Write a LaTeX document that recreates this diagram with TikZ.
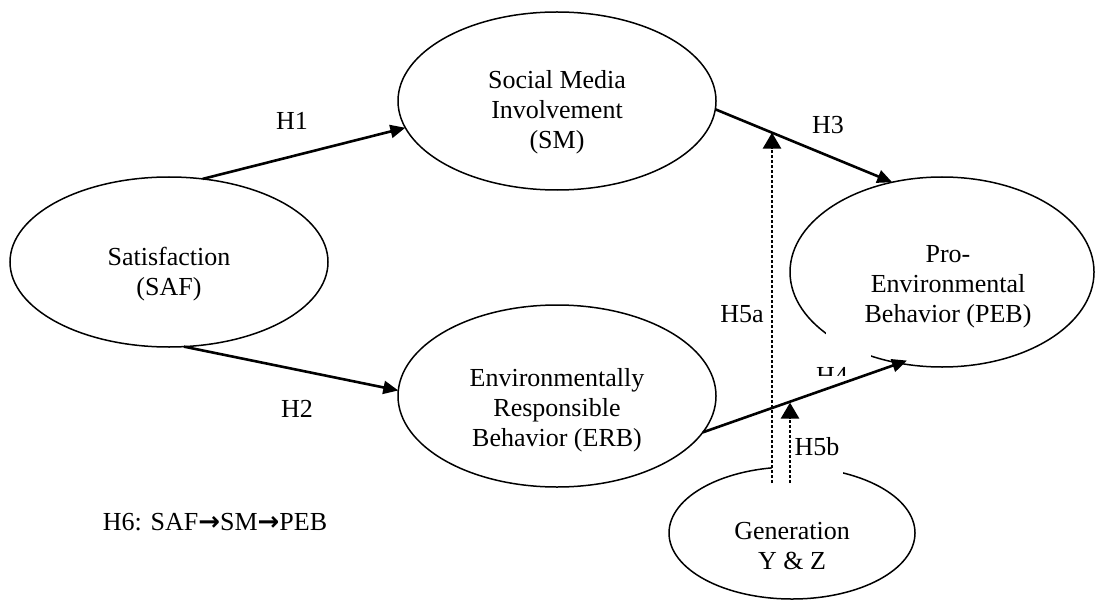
\documentclass[tikz,border=0pt]{standalone}
\usepackage{fontspec}
\setmainfont{Liberation Serif}
\newfontfamily\arrowfont{DejaVu Sans}
\usetikzlibrary{shapes.geometric,arrows.meta,calc}

\tikzset{
  construct/.style={ellipse, draw, line width=0.75pt, inner sep=0pt, outer sep=0pt},
  hyp/.style={line width=1.3pt, -{Triangle[length=7.5pt 0,width=6.5pt 0]}},
  moder/.style={line width=1.4pt, dash pattern=on 1.3pt off 1.2pt, -{Triangle[length=8pt 0,width=9pt 0]}},
}

\begin{document}
\begin{tikzpicture}[x=0.5pt, y=-0.5pt, font=\fontsize{13pt}{15pt}\selectfont]
            \useasboundingbox (0,0) rectangle (1095,604);
            % constructs
            \node[construct, minimum width=159pt, minimum height=85pt] (saf) at (169,262) {};
            \node[construct, minimum width=159pt, minimum height=89pt] (sm) at (557,101) {};
            \node[construct, minimum width=159pt, minimum height=91pt] (erb) at (557,396) {};
            \node[construct, minimum width=152pt, minimum height=95pt] (peb) at (942,272) {};
            \node[construct, minimum width=123pt, minimum height=66pt] (gen) at (792,533) {};
            \fill[white] (826,331) rectangle (871,362);
            \fill[white] (772,455) rectangle (843,482);
            \node[align=center] (saftext) at ([yshift=-6pt]saf.center) {Satisfaction\\(SAF)};
            \node[align=center] (smtext) at ([yshift=-5.5pt]sm.center) {Social Media\\Involvement\\(SM)};
            \node[align=center] (erbtext) at ([yshift=-7pt]erb.center) {Environmentally\\Responsible\\Behavior (ERB)};
            \node[align=center] (pebtext) at ([xshift=3pt,yshift=-7.5pt]peb.center) {Pro-\\Environmental\\Behavior (PEB)};
            \node[align=center] (gentext) at ([yshift=-6.5pt]gen.center) {Generation\\Y \& Z};
            % hypotheses
            \node (h1) at (292,121) {H1};
            \node (h2) at (297,409) {H2};
            \node (h3) at (828,125) {H3};
            \node (h5a) at (742,314) {H5a};
            \node (h5b) at (817,447) {H5b};
            \node (h6) at (215,522) {H6: SAF{\arrowfont\bfseries →}SM{\arrowfont\bfseries →}PEB};
            \begin{scope}
                \clip (800,355) rectangle (870,375);
                \node (h4) at (832,376) {H4};
            \end{scope}
            \draw[hyp] (saf.68) -- (sm.190);
            \draw[hyp] (saf.280) -- (erb.178);
            \draw[hyp] (sm.357) -- (peb.119);
            \draw[hyp, shorten >=-4pt] (erb.346) -- (peb.245);
            % moderator
            \coordinate (g5a) at ($(gen.center)+(-20,-50)$);
            \coordinate (g5b) at ($(gen.center)+(-2,-50)$);
            \coordinate (h3x) at ($(sm.357)!0.32!(peb.119)$);
            \coordinate (h4x) at ($(erb.346)!0.43!(peb.245)$);
            \draw[moder] (g5a) -- (g5a |- h3x);
            \draw[moder] (g5b) -- (g5b |- h4x);
        \end{tikzpicture}
\end{document}
